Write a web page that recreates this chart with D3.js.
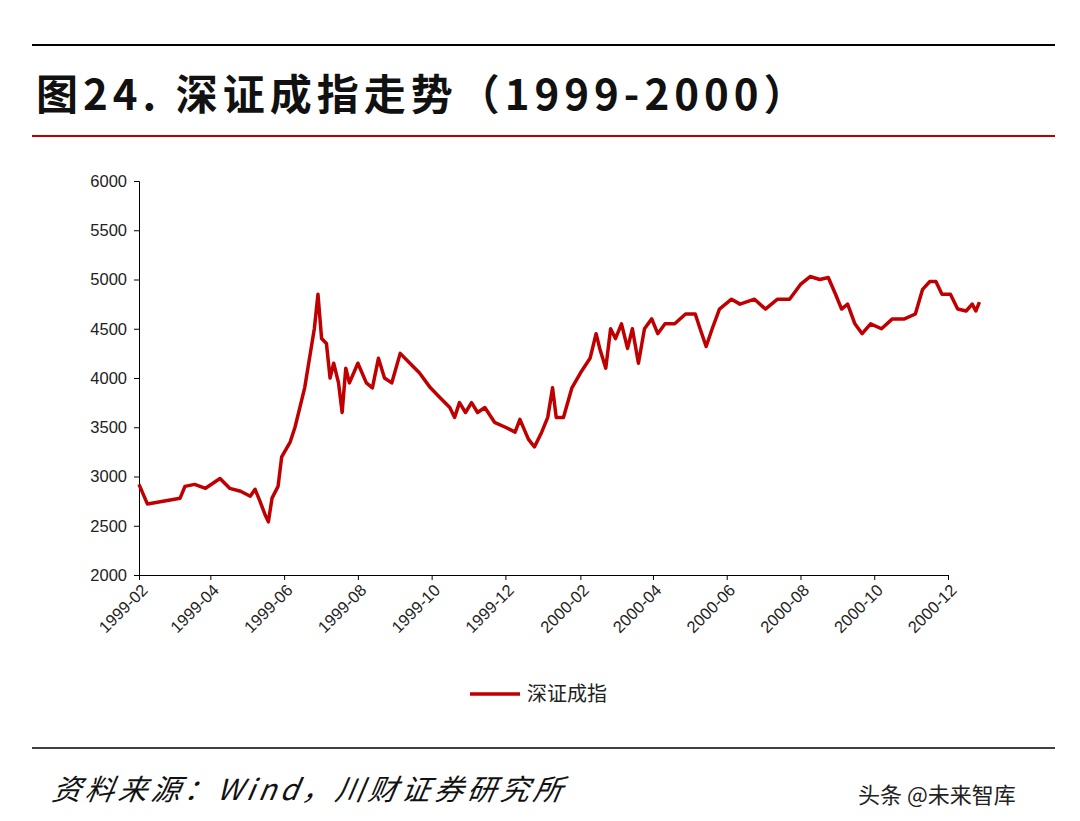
<!DOCTYPE html>
<html><head><meta charset="utf-8">
<script src="https://cdn.jsdelivr.net/npm/d3@7"></script>
<style>body{margin:0;background:#fff}svg{display:block}</style>
</head><body><svg id="c" width="1080" height="821"></svg>
<script>
const dates=["1999-02-01","1999-02-08","1999-03-07","1999-03-11","1999-03-19","1999-03-28","1999-04-09","1999-04-17","1999-04-26","1999-05-04","1999-05-08","1999-05-12","1999-05-16","1999-05-19","1999-05-22","1999-05-27","1999-05-30","1999-06-06","1999-06-10","1999-06-14","1999-06-18","1999-06-22","1999-06-26","1999-06-29","1999-07-02","1999-07-06","1999-07-09","1999-07-12","1999-07-16","1999-07-19","1999-07-22","1999-07-25","1999-08-01","1999-08-08","1999-08-13","1999-08-18","1999-08-23","1999-08-29","1999-09-05","1999-09-13","1999-09-21","1999-09-30","1999-10-08","1999-10-16","1999-10-20","1999-10-24","1999-10-29","1999-11-03","1999-11-08","1999-11-14","1999-11-22","1999-12-01","1999-12-09","1999-12-13","1999-12-20","1999-12-25","1999-12-31","2000-01-05","2000-01-09","2000-01-12","2000-01-18","2000-01-25","2000-02-01","2000-02-09","2000-02-14","2000-02-17","2000-02-22","2000-02-26","2000-03-01","2000-03-06","2000-03-11","2000-03-15","2000-03-20","2000-03-25","2000-03-31","2000-04-05","2000-04-11","2000-04-19","2000-04-28","2000-05-06","2000-05-10","2000-05-15","2000-05-20","2000-05-26","2000-06-05","2000-06-12","2000-06-24","2000-07-03","2000-07-13","2000-07-23","2000-08-01","2000-08-09","2000-08-17","2000-08-24","2000-08-30","2000-09-04","2000-09-09","2000-09-15","2000-09-21","2000-09-28","2000-10-07","2000-10-16","2000-10-26","2000-11-04","2000-11-10","2000-11-16","2000-11-21","2000-11-26","2000-12-03","2000-12-09","2000-12-16","2000-12-21","2000-12-24","2000-12-27"];
const values=[2920,2720,2780,2900,2920,2880,2980,2880,2850,2800,2870,2750,2620,2540,2780,2900,3200,3350,3500,3700,3900,4200,4500,4850,4400,4350,4000,4150,3950,3650,4100,3950,4150,3950,3900,4200,4000,3950,4250,4150,4050,3900,3800,3700,3600,3750,3650,3750,3650,3700,3550,3500,3450,3580,3380,3300,3450,3600,3900,3600,3600,3900,4050,4200,4450,4300,4100,4500,4400,4550,4300,4500,4150,4500,4600,4450,4550,4550,4650,4650,4500,4320,4500,4700,4800,4750,4800,4700,4800,4800,4950,5030,5000,5020,4850,4700,4750,4550,4450,4550,4500,4600,4600,4650,4900,4980,4980,4850,4850,4700,4680,4750,4680,4770];
const yTicks=[2000,2500,3000,3500,4000,4500,5000,5500,6000];
const xTicks=["1999-02","1999-04","1999-06","1999-08","1999-10","1999-12","2000-02","2000-04","2000-06","2000-08","2000-10","2000-12"];
const seriesName="深证成指";
const svg=d3.select("#c");
const P=d3.timeParse("%Y-%m-%d"), PM=d3.timeParse("%Y-%m");
const data=dates.map((d,i)=>({d:P(d),v:values[i]}));
const x=d3.scaleTime().domain([PM("1999-02"),PM("2000-12")]).range([139,948]);
const y=d3.scaleLinear().domain([2000,6000]).range([575,181]);
const F="'Noto Sans CJK SC','Noto Sans',sans-serif";
svg.append("line").attr("x1",32).attr("x2",1055).attr("y1",45).attr("y2",45).attr("stroke","#000").attr("stroke-width",2);
svg.append("text").attr("x",36).attr("y",110).attr("font-family",F).attr("font-weight","bold").attr("font-size",42).attr("letter-spacing",5).attr("fill","#111").text("图24. 深证成指走势（1999-2000）");
svg.append("line").attr("x1",32).attr("x2",1055).attr("y1",136).attr("y2",136).attr("stroke","#c00000").attr("stroke-width",2);
const ya=svg.append("g").attr("transform","translate(139,0)").call(d3.axisLeft(y).tickValues(yTicks).tickSize(5).tickFormat(d3.format("d")));
const xa=svg.append("g").attr("transform","translate(0,575)").call(d3.axisBottom(x).tickValues(xTicks.map(PM)).tickSize(5).tickFormat(d3.timeFormat("%Y-%m")));
[ya,xa].forEach(g=>{g.select(".domain").attr("stroke","#000");g.selectAll("line").attr("stroke","#000");g.selectAll("text").attr("font-family","'Liberation Sans',Arial,sans-serif").attr("font-size",16.5).attr("fill","#222");});
ya.selectAll("text").attr("x",-12);
xa.selectAll("text").attr("text-anchor","end").attr("dx","-0.3em").attr("dy","0.6em").attr("transform","rotate(-45)");
svg.append("path").datum(data).attr("fill","none").attr("stroke","#c00000").attr("stroke-width",3.5).attr("stroke-linejoin","round")
 .attr("d",d3.line().x(d=>x(d.d)).y(d=>y(d.v)));
svg.append("line").attr("x1",470).attr("x2",520).attr("y1",694).attr("y2",694).attr("stroke","#c00000").attr("stroke-width",3.5);
svg.append("text").attr("x",527).attr("y",701).attr("font-family",F).attr("font-size",20).attr("fill","#222").text(seriesName);
svg.append("line").attr("x1",32).attr("x2",1055).attr("y1",748).attr("y2",748).attr("stroke","#000").attr("stroke-width",1.5);
svg.append("text").attr("x",52).attr("y",800).attr("font-family",F).attr("font-style","italic").attr("font-size",29).attr("letter-spacing",4).attr("fill","#111").attr("transform","skewX(-10) translate(140,0)").text("资料来源：Wind，川财证券研究所");
svg.append("text").attr("x",858).attr("y",803).attr("font-family",F).attr("font-size",22).attr("fill","#222").text("头条 @未来智库");
</script></body></html>
